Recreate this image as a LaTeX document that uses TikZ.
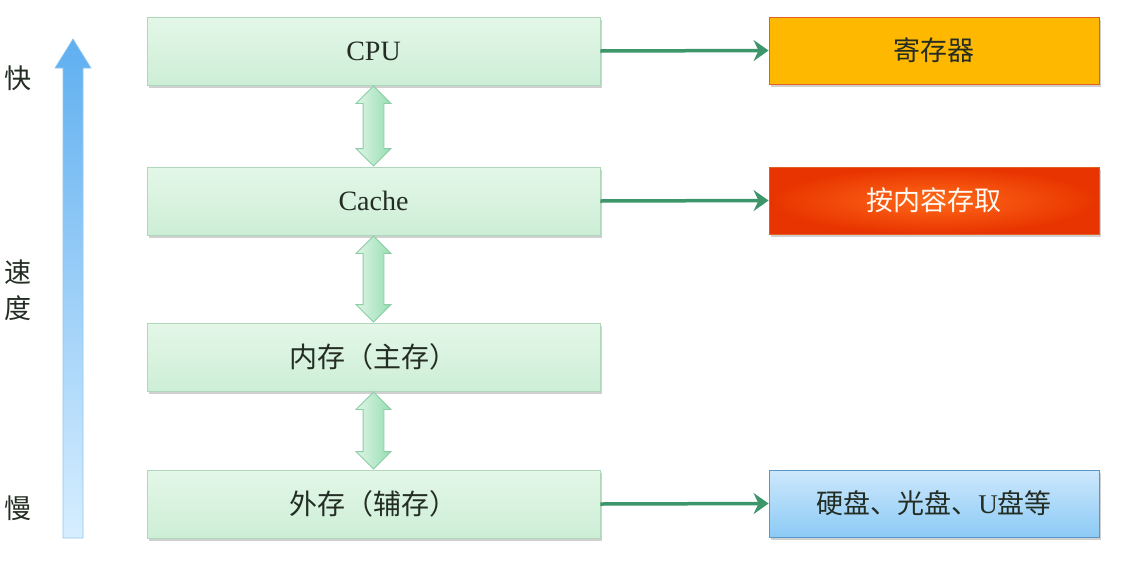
\documentclass[tikz,border=0pt]{standalone}
\usepackage{fontspec}
\setmainfont{Liberation Serif}
\newfontfamily\cjk{Noto Sans CJK SC}
\usetikzlibrary{shapes.arrows,arrows.meta,shadows,calc}
\definecolor{txt}{RGB}{35,45,35}
\definecolor{gtop}{RGB}{228,247,232}
\definecolor{gbot}{RGB}{205,238,214}
\definecolor{gborder}{RGB}{175,215,188}
\definecolor{linkc}{RGB}{60,150,105}
\definecolor{orangef}{RGB}{255,184,0}
\definecolor{oborder}{RGB}{225,95,35}
\definecolor{redc}{RGB}{232,52,0}
\definecolor{redl}{RGB}{255,105,25}
\definecolor{btop}{RGB}{205,232,252}
\definecolor{bbot}{RGB}{140,202,245}
\definecolor{bborder}{RGB}{90,150,200}
\definecolor{arrtop}{RGB}{95,175,240}
\definecolor{arrbot}{RGB}{215,238,255}
\definecolor{dtop}{RGB}{222,245,230}
\definecolor{dbot}{RGB}{150,222,178}
\definecolor{dborder}{RGB}{140,205,165}
\begin{document}
\begin{tikzpicture}[x=1pt,y=-1pt,
  level/.style={draw=gborder, line width=0.9pt, top color=gtop, bottom color=gbot,
    minimum width=453pt, minimum height=68pt, inner sep=0pt, text=txt,
    font=\fontsize{28}{32}\selectfont,
    drop shadow={shadow xshift=1.5pt, shadow yshift=-2.5pt, opacity=0.3, fill=black!60}},
  side/.style={line width=0.9pt, minimum width=330pt, minimum height=67pt, inner sep=0pt,
    font=\cjk\fontsize{27}{32}\selectfont,
    drop shadow={shadow xshift=1.5pt, shadow yshift=-2.5pt, opacity=0.3, fill=black!60}},
  link/.style={draw=linkc, line width=3.5pt, -{Stealth[length=15pt,width=21pt,inset=5pt]}},
  dbl/.style={double arrow, rotate=90, draw=dborder, line width=0.8pt,
    top color=dtop, bottom color=dbot, shading angle=90,
    inner xsep=0pt, inner ysep=10pt, double arrow head extend=7pt},
  speed/.style={text=txt, font=\cjk\fontsize{27}{32}\selectfont, inner sep=0pt}
]
\useasboundingbox[fill=white] (0,0) rectangle (1129,573);

\node[level] (cpu)   at (373.5,51) {CPU};
\node[level] (cache) at (373.5,201) {Cache};
\node[level] (mem)   at (373.5,357) {\cjk 内存（主存）};
\node[level] (ext)   at (373.5,504) {\cjk 外存（辅存）};

\node[side, draw=oborder, fill=orangef, text=txt] (reg) at (934,50.5) {寄存器};
\node[side, draw=oborder, inner color=redl, outer color=redc, text=white!95!orange] (cam) at (934,200.5) {按内容存取};
\node[side, draw=bborder, top color=btop, bottom color=bbot, text=txt] (disk) at (934,503.5) {硬盘、光盘、{\rmfamily U}盘等};

\draw[link] (cpu.east) -- (reg.west);
\draw[link] (cache.east) -- (cam.west);
\draw[link] (ext.east) -- (disk.west);

\path (cpu.south) -- (cache.north) node[midway, dbl, minimum height=80pt] (d1) {};
\path (cache.south) -- (mem.north) node[midway, dbl, minimum height=86pt] (d2) {};
\path (mem.south) -- (ext.north) node[midway, dbl, minimum height=77pt] (d3) {};

\shade[top color=arrtop, bottom color=arrbot, draw=arrtop!70, line width=0.6pt]
  (63,538) -- (63,68) -- (55,68) -- (73,39) -- (91,68) -- (83,68) -- (83,538) -- cycle;

\node[speed] (fast) at (18,78) {快};
\node[speed] (su)   at (18,272) {速};
\node[speed] (du)   at (18,308) {度};
\node[speed] (slow) at (18,508) {慢};
\end{tikzpicture}
\end{document}
